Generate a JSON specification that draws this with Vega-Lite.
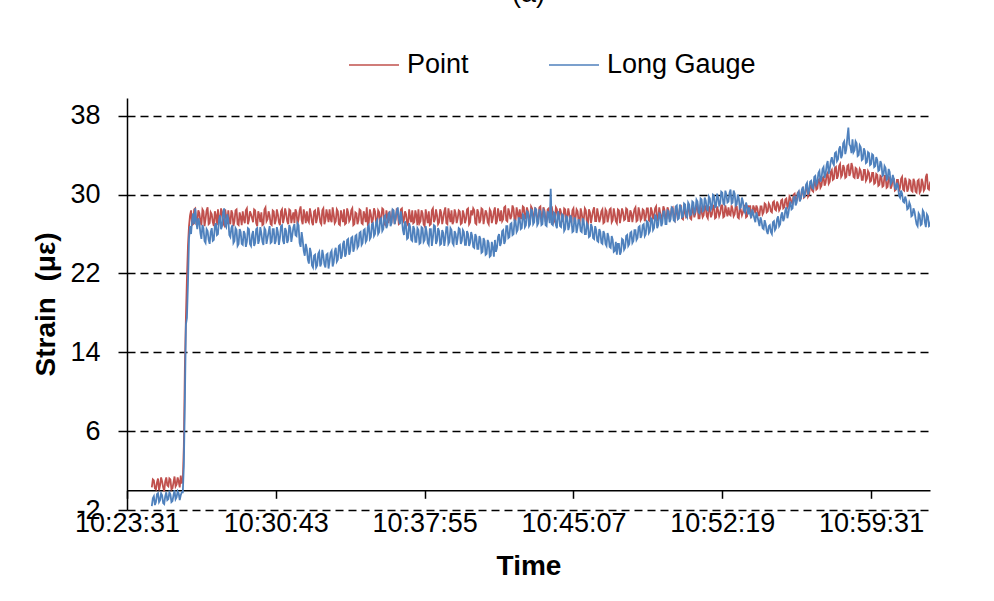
{
"$schema": "https://vega.github.io/schema/vega-lite/v6.json",
"width": 803, "height": 412,
"autosize": {"type": "none"},
"padding": {"left": 127, "top": 98, "right": 64, "bottom": 91},
"background": "white",
"title": {"text": "(a)", "fontSize": 27, "font": "Liberation Sans", "fontWeight": "normal", "anchor": "middle", "frame": "group", "offset": 31, "color": "black"},
"config": {"view": {"stroke": null}, "font": "Liberation Sans"},
"data": {"values": [
{"s":72,"p":0.3,"g":-1.6},{"s":78,"p":1.0,"g":-0.6},{"s":84,"p":0.1,"g":-1.2},{"s":90,"p":1.2,"g":-0.3},{"s":96,"p":0.5,"g":-1.0},{"s":102,"p":0.9,"g":-0.5},{"s":108,"p":-0.1,"g":-1.4},{"s":114,"p":1.3,"g":-0.2},{"s":120,"p":0.4,"g":-0.9},{"s":126,"p":1.1,"g":-0.4},{"s":132,"p":0.2,"g":-1.1},{"s":138,"p":1.4,"g":0.0},{"s":144,"p":0.6,"g":-0.7},{"s":150,"p":0.9,"g":-0.3},{"s":156,"p":1.5,"g":-0.5},{"s":162,"p":1.0,"g":-0.2},{"s":168,"p":12.5,"g":9.0},{"s":174,"p":21.5,"g":17.5},{"s":180,"p":26.8,"g":25.5},
{"s":186,"p":28.4,"g":26.0},{"s":192,"p":27.0,"g":28.1},{"s":198,"p":28.6,"g":28.6},{"s":204,"p":27.2,"g":26.5},{"s":210,"p":28.1,"g":27.2},{"s":216,"p":26.9,"g":25.5},{"s":222,"p":28.3,"g":26.6},{"s":228,"p":27.5,"g":25.1},{"s":234,"p":28.7,"g":26.3},{"s":240,"p":27.1,"g":25.0},
{"s":246,"p":28.0,"g":26.6},{"s":252,"p":26.8,"g":25.4},{"s":258,"p":27.9,"g":27.1},{"s":264,"p":28.5,"g":26.0},{"s":270,"p":27.3,"g":27.9},{"s":276,"p":28.2,"g":26.8},{"s":282,"p":26.9,"g":28.6},{"s":288,"p":27.8,"g":26.7},{"s":294,"p":28.4,"g":27.5},{"s":300,"p":27.0,"g":25.7},
{"s":306,"p":28.1,"g":26.9},{"s":312,"p":27.3,"g":25.3},{"s":318,"p":28.5,"g":26.4},{"s":324,"p":26.9,"g":25.0},{"s":330,"p":27.7,"g":26.2},{"s":336,"p":28.3,"g":24.9},{"s":342,"p":27.1,"g":26.0},{"s":348,"p":28.6,"g":25.2},{"s":354,"p":27.4,"g":26.5},{"s":360,"p":28.0,"g":24.8},
{"s":366,"p":27.2,"g":26.3},{"s":372,"p":28.4,"g":25.1},{"s":378,"p":26.8,"g":26.6},{"s":384,"p":27.9,"g":25.4},{"s":390,"p":28.2,"g":26.1},{"s":396,"p":27.0,"g":24.9},{"s":402,"p":28.7,"g":26.4},{"s":408,"p":27.5,"g":25.6},{"s":414,"p":27.9,"g":26.8},{"s":420,"p":26.9,"g":25.2},
{"s":426,"p":28.3,"g":26.5},{"s":432,"p":27.4,"g":25.3},{"s":438,"p":28.0,"g":26.2},{"s":444,"p":26.9,"g":25.6},{"s":450,"p":28.5,"g":26.9},{"s":456,"p":27.6,"g":25.0},{"s":462,"p":28.1,"g":26.3},{"s":468,"p":27.0,"g":25.4},{"s":474,"p":28.4,"g":26.6},{"s":480,"p":27.7,"g":25.9},
{"s":486,"p":27.1,"g":27.0},{"s":492,"p":28.2,"g":25.8},{"s":498,"p":27.5,"g":26.9},{"s":504,"p":28.8,"g":24.7},{"s":510,"p":27.0,"g":25.4},{"s":516,"p":27.9,"g":23.8},{"s":522,"p":28.3,"g":24.5},{"s":528,"p":27.2,"g":23.0},{"s":534,"p":28.0,"g":24.1},{"s":540,"p":26.9,"g":22.6},
{"s":546,"p":28.4,"g":23.9},{"s":552,"p":27.6,"g":22.8},{"s":558,"p":28.1,"g":24.2},{"s":564,"p":27.0,"g":23.0},{"s":570,"p":28.6,"g":23.8},{"s":576,"p":27.4,"g":22.6},{"s":582,"p":27.9,"g":24.0},{"s":588,"p":28.5,"g":23.2},{"s":594,"p":27.2,"g":24.3},{"s":600,"p":28.0,"g":23.1},
{"s":606,"p":27.3,"g":24.6},{"s":612,"p":28.3,"g":23.4},{"s":618,"p":26.9,"g":24.9},{"s":624,"p":27.8,"g":23.8},{"s":630,"p":28.5,"g":25.3},{"s":636,"p":27.1,"g":24.0},{"s":642,"p":28.2,"g":25.5},{"s":648,"p":27.5,"g":24.3},{"s":654,"p":28.6,"g":25.7},{"s":660,"p":27.0,"g":24.6},
{"s":666,"p":28.1,"g":25.9},{"s":672,"p":27.4,"g":24.8},{"s":678,"p":28.4,"g":26.2},{"s":684,"p":27.0,"g":25.1},{"s":690,"p":27.9,"g":26.5},{"s":696,"p":28.7,"g":25.4},{"s":702,"p":27.2,"g":26.9},{"s":708,"p":28.0,"g":25.7},{"s":714,"p":27.5,"g":27.1},{"s":720,"p":28.3,"g":26.0},
{"s":726,"p":27.0,"g":27.4},{"s":732,"p":28.2,"g":26.2},{"s":738,"p":27.6,"g":27.6},{"s":744,"p":28.5,"g":26.5},{"s":750,"p":26.9,"g":27.9},{"s":756,"p":27.8,"g":26.9},{"s":762,"p":28.3,"g":28.2},{"s":768,"p":27.3,"g":27.1},{"s":774,"p":28.0,"g":28.4},{"s":780,"p":27.5,"g":27.6},
{"s":786,"p":28.2,"g":28.7},{"s":792,"p":27.1,"g":27.0},{"s":798,"p":28.6,"g":27.5},{"s":804,"p":27.4,"g":25.9},{"s":810,"p":28.0,"g":26.9},{"s":816,"p":26.9,"g":25.6},{"s":822,"p":27.7,"g":26.7},{"s":828,"p":28.4,"g":25.3},{"s":834,"p":27.2,"g":26.5},{"s":840,"p":27.9,"g":25.2},
{"s":846,"p":28.5,"g":26.4},{"s":852,"p":27.3,"g":25.1},{"s":858,"p":28.1,"g":26.6},{"s":864,"p":26.8,"g":25.4},{"s":870,"p":27.8,"g":26.2},{"s":876,"p":28.3,"g":24.9},{"s":882,"p":27.0,"g":26.5},{"s":888,"p":28.6,"g":25.6},{"s":894,"p":27.5,"g":26.8},{"s":900,"p":27.9,"g":25.3},
{"s":906,"p":27.2,"g":26.3},{"s":912,"p":28.2,"g":25.0},{"s":918,"p":27.6,"g":26.1},{"s":924,"p":28.7,"g":25.5},{"s":930,"p":27.0,"g":26.7},{"s":936,"p":27.9,"g":25.2},{"s":942,"p":28.4,"g":26.4},{"s":948,"p":27.3,"g":24.9},{"s":954,"p":28.1,"g":26.0},{"s":960,"p":27.6,"g":25.6},
{"s":966,"p":28.3,"g":26.5},{"s":972,"p":27.1,"g":25.3},{"s":978,"p":28.0,"g":26.2},{"s":984,"p":27.5,"g":24.9},{"s":990,"p":28.6,"g":26.0},{"s":996,"p":27.2,"g":25.1},{"s":1002,"p":27.9,"g":25.8},{"s":1008,"p":28.4,"g":24.6},{"s":1014,"p":27.0,"g":25.7},{"s":1020,"p":28.2,"g":24.5},
{"s":1026,"p":27.4,"g":25.5},{"s":1032,"p":28.5,"g":24.2},{"s":1038,"p":27.7,"g":25.3},{"s":1044,"p":28.1,"g":24.0},{"s":1050,"p":27.0,"g":25.1},{"s":1056,"p":28.3,"g":23.8},{"s":1062,"p":27.6,"g":24.6},{"s":1068,"p":28.7,"g":25.4},{"s":1074,"p":27.3,"g":24.6},{"s":1080,"p":28.0,"g":26.0},
{"s":1086,"p":28.4,"g":25.1},{"s":1092,"p":27.5,"g":26.4},{"s":1098,"p":28.8,"g":25.3},{"s":1104,"p":27.3,"g":26.8},{"s":1110,"p":28.2,"g":25.7},{"s":1116,"p":27.8,"g":27.1},{"s":1122,"p":28.6,"g":26.0},{"s":1128,"p":27.4,"g":27.3},{"s":1134,"p":28.1,"g":26.4},{"s":1140,"p":28.5,"g":27.6},
{"s":1146,"p":27.6,"g":26.6},{"s":1152,"p":28.7,"g":27.9},{"s":1158,"p":27.9,"g":26.9},{"s":1164,"p":28.3,"g":28.2},{"s":1170,"p":27.4,"g":27.0},{"s":1176,"p":28.6,"g":28.4},{"s":1182,"p":27.8,"g":27.2},{"s":1188,"p":28.2,"g":28.5},{"s":1194,"p":27.5,"g":27.1},{"s":1200,"p":28.8,"g":28.3},
{"s":1206,"p":27.7,"g":27.0},{"s":1212,"p":28.4,"g":28.2},{"s":1218,"p":27.3,"g":26.8},{"s":1224,"p":28.6,"g":28.0},{"s":1230,"p":27.9,"g":30.6},{"s":1236,"p":28.1,"g":26.9},{"s":1242,"p":27.4,"g":28.1},{"s":1248,"p":28.5,"g":26.6},{"s":1254,"p":27.8,"g":27.9},{"s":1260,"p":28.2,"g":26.7},
{"s":1266,"p":27.4,"g":27.9},{"s":1272,"p":28.5,"g":26.5},{"s":1278,"p":27.7,"g":27.7},{"s":1284,"p":28.0,"g":26.8},{"s":1290,"p":27.2,"g":27.6},{"s":1296,"p":28.6,"g":26.3},{"s":1302,"p":27.6,"g":27.4},{"s":1308,"p":28.3,"g":26.7},{"s":1314,"p":27.1,"g":27.2},{"s":1320,"p":28.1,"g":26.2},
{"s":1326,"p":27.5,"g":27.3},{"s":1332,"p":28.4,"g":26.0},{"s":1338,"p":27.0,"g":26.9},{"s":1344,"p":28.2,"g":25.8},{"s":1350,"p":27.8,"g":26.7},{"s":1356,"p":28.7,"g":25.5},{"s":1362,"p":27.3,"g":26.4},{"s":1368,"p":28.0,"g":25.2},{"s":1374,"p":27.6,"g":26.2},{"s":1380,"p":28.5,"g":25.0},
{"s":1386,"p":27.2,"g":26.0},{"s":1392,"p":28.3,"g":24.8},{"s":1398,"p":27.7,"g":25.7},{"s":1404,"p":28.6,"g":24.6},{"s":1410,"p":27.4,"g":25.4},{"s":1416,"p":28.0,"g":24.3},{"s":1422,"p":27.1,"g":23.9},{"s":1428,"p":28.4,"g":25.0},{"s":1434,"p":27.8,"g":24.2},{"s":1440,"p":28.2,"g":25.4},
{"s":1446,"p":27.5,"g":24.6},{"s":1452,"p":28.5,"g":25.9},{"s":1458,"p":27.3,"g":25.0},{"s":1464,"p":28.1,"g":26.2},{"s":1470,"p":27.9,"g":25.3},{"s":1476,"p":28.7,"g":26.4},{"s":1482,"p":27.4,"g":25.6},{"s":1488,"p":28.2,"g":26.8},{"s":1494,"p":27.6,"g":25.9},{"s":1500,"p":28.4,"g":27.0},
{"s":1506,"p":27.7,"g":26.0},{"s":1512,"p":28.6,"g":27.2},{"s":1518,"p":27.3,"g":26.3},{"s":1524,"p":28.3,"g":27.5},{"s":1530,"p":27.9,"g":26.6},{"s":1536,"p":28.8,"g":27.8},{"s":1542,"p":27.5,"g":26.9},{"s":1548,"p":28.1,"g":28.0},{"s":1554,"p":27.8,"g":27.1},{"s":1560,"p":28.5,"g":28.3},
{"s":1566,"p":27.6,"g":27.0},{"s":1572,"p":28.4,"g":28.3},{"s":1578,"p":27.9,"g":27.5},{"s":1584,"p":28.7,"g":28.6},{"s":1590,"p":27.4,"g":27.3},{"s":1596,"p":28.2,"g":28.9},{"s":1602,"p":28.0,"g":27.6},{"s":1608,"p":28.8,"g":28.7},{"s":1614,"p":27.5,"g":27.8},{"s":1620,"p":28.3,"g":29.0},
{"s":1626,"p":27.8,"g":27.7},{"s":1632,"p":28.6,"g":29.0},{"s":1638,"p":27.5,"g":28.0},{"s":1644,"p":28.4,"g":29.2},{"s":1650,"p":28.1,"g":28.3},{"s":1656,"p":28.9,"g":29.3},{"s":1662,"p":27.6,"g":28.1},{"s":1668,"p":28.3,"g":29.5},{"s":1674,"p":27.9,"g":28.4},{"s":1680,"p":28.7,"g":29.4},
{"s":1686,"p":27.6,"g":28.4},{"s":1692,"p":28.5,"g":29.6},{"s":1698,"p":28.0,"g":28.7},{"s":1704,"p":28.8,"g":29.9},{"s":1710,"p":27.7,"g":28.8},{"s":1716,"p":28.4,"g":29.7},{"s":1722,"p":28.1,"g":29.1},{"s":1728,"p":28.9,"g":30.2},{"s":1734,"p":27.8,"g":29.0},{"s":1740,"p":28.3,"g":30.0},
{"s":1746,"p":28.7,"g":29.3},{"s":1752,"p":27.9,"g":30.5},{"s":1758,"p":28.5,"g":29.2},{"s":1764,"p":28.0,"g":30.1},{"s":1770,"p":28.8,"g":29.0},{"s":1776,"p":27.6,"g":29.6},{"s":1782,"p":28.4,"g":28.7},{"s":1788,"p":28.2,"g":29.3},{"s":1794,"p":28.9,"g":28.2},{"s":1800,"p":27.8,"g":28.8},
{"s":1806,"p":28.5,"g":28.7},{"s":1812,"p":27.8,"g":27.6},{"s":1818,"p":28.9,"g":28.1},{"s":1824,"p":28.1,"g":27.2},{"s":1830,"p":28.6,"g":27.8},{"s":1836,"p":27.9,"g":26.8},{"s":1842,"p":28.8,"g":27.3},{"s":1848,"p":28.2,"g":26.5},{"s":1854,"p":29.0,"g":27.0},{"s":1860,"p":28.3,"g":26.0},
{"s":1866,"p":28.9,"g":26.9},{"s":1872,"p":28.2,"g":26.0},{"s":1878,"p":29.3,"g":27.3},{"s":1884,"p":28.4,"g":26.6},{"s":1890,"p":29.0,"g":27.8},{"s":1896,"p":28.6,"g":27.0},{"s":1902,"p":29.5,"g":28.2},{"s":1908,"p":28.7,"g":27.6},{"s":1914,"p":29.6,"g":28.7},{"s":1920,"p":28.9,"g":28.1},
{"s":1926,"p":29.6,"g":29.3},{"s":1932,"p":29.1,"g":28.6},{"s":1938,"p":30.1,"g":29.8},{"s":1944,"p":29.4,"g":29.2},{"s":1950,"p":30.3,"g":30.3},{"s":1956,"p":29.6,"g":29.6},{"s":1962,"p":30.6,"g":30.8},{"s":1968,"p":29.8,"g":30.0},{"s":1974,"p":30.9,"g":31.2},{"s":1980,"p":30.0,"g":30.4},
{"s":1986,"p":30.9,"g":31.4},{"s":1992,"p":30.3,"g":30.6},{"s":1998,"p":31.4,"g":31.9},{"s":2004,"p":30.6,"g":31.2},{"s":2010,"p":31.6,"g":32.4},{"s":2016,"p":30.9,"g":31.6},{"s":2022,"p":31.8,"g":32.8},{"s":2028,"p":31.2,"g":32.1},{"s":2034,"p":32.2,"g":33.4},{"s":2040,"p":31.3,"g":32.6},
{"s":2046,"p":32.5,"g":33.8},{"s":2052,"p":31.6,"g":33.0},{"s":2058,"p":32.8,"g":34.3},{"s":2064,"p":31.9,"g":33.6},{"s":2070,"p":33.1,"g":34.9},{"s":2076,"p":32.0,"g":34.0},{"s":2082,"p":32.7,"g":35.4},{"s":2088,"p":31.8,"g":34.6},{"s":2094,"p":33.0,"g":36.8},{"s":2100,"p":32.2,"g":34.9},
{"s":2106,"p":32.8,"g":35.6},{"s":2112,"p":31.7,"g":34.5},{"s":2118,"p":32.6,"g":35.2},{"s":2124,"p":31.9,"g":34.0},{"s":2130,"p":32.4,"g":34.8},{"s":2136,"p":31.5,"g":33.6},{"s":2142,"p":32.5,"g":34.4},{"s":2148,"p":31.6,"g":33.3},{"s":2154,"p":32.2,"g":34.2},{"s":2160,"p":31.4,"g":33.1},
{"s":2166,"p":32.2,"g":34.0},{"s":2172,"p":31.2,"g":32.9},{"s":2178,"p":32.0,"g":33.5},{"s":2184,"p":31.0,"g":32.5},{"s":2190,"p":31.8,"g":33.1},{"s":2196,"p":30.9,"g":32.0},{"s":2202,"p":31.9,"g":32.7},{"s":2208,"p":30.8,"g":31.6},{"s":2214,"p":31.7,"g":32.3},{"s":2220,"p":30.9,"g":31.3},
{"s":2226,"p":31.6,"g":31.6},{"s":2232,"p":30.5,"g":30.5},{"s":2238,"p":31.5,"g":30.9},{"s":2244,"p":30.7,"g":29.7},{"s":2250,"p":31.8,"g":30.1},{"s":2256,"p":30.4,"g":29.2},{"s":2262,"p":31.3,"g":29.4},{"s":2268,"p":30.6,"g":28.6},{"s":2274,"p":31.4,"g":28.9},{"s":2280,"p":30.3,"g":27.9},
{"s":2286,"p":31.3,"g":28.3},{"s":2292,"p":30.2,"g":27.0},{"s":2298,"p":31.5,"g":28.1},{"s":2304,"p":30.4,"g":26.9},{"s":2310,"p":31.2,"g":28.4},{"s":2316,"p":30.6,"g":27.2},{"s":2322,"p":32.1,"g":28.0},{"s":2328,"p":30.5,"g":26.8},{"s":2334,"p":31.4,"g":27.5},
{"s":75,"p":1.1,"g":-0.8},{"s":81,"p":0.2,"g":-1.5},{"s":87,"p":0.8,"g":-0.4},{"s":93,"p":0.0,"g":-1.2},{"s":99,"p":1.3,"g":-0.3},{"s":105,"p":0.3,"g":-1.3},{"s":111,"p":0.9,"g":-0.6},{"s":117,"p":0.5,"g":-1.0},{"s":123,"p":1.2,"g":-0.2},{"s":129,"p":0.1,"g":-1.2},{"s":135,"p":0.8,"g":-0.5},{"s":141,"p":0.4,"g":-0.9},{"s":147,"p":1.3,"g":-0.1},{"s":153,"p":0.3,"g":-1.0},{"s":159,"p":0.7,"g":-0.2},{"s":165,"p":4.5,"g":2.5},{"s":171,"p":17.5,"g":16.8},{"s":177,"p":24.8,"g":21.0},{"s":183,"p":27.9,"g":26.8},
{"s":189,"p":26.9,"g":27.4},{"s":195,"p":28.5,"g":27.0},{"s":201,"p":27.1,"g":27.3},{"s":207,"p":28.4,"g":27.6},{"s":213,"p":27.3,"g":26.1},{"s":219,"p":28.5,"g":26.9},{"s":225,"p":26.8,"g":25.3},{"s":231,"p":28.4,"g":26.5},{"s":237,"p":27.0,"g":25.4},{"s":243,"p":28.2,"g":26.2},
{"s":249,"p":27.2,"g":25.3},{"s":255,"p":28.3,"g":26.8},{"s":261,"p":26.9,"g":25.9},{"s":267,"p":27.4,"g":27.4},{"s":273,"p":28.6,"g":26.5},{"s":279,"p":27.1,"g":28.2},{"s":285,"p":28.5,"g":26.9},{"s":291,"p":27.0,"g":28.0},{"s":297,"p":27.3,"g":25.9},{"s":303,"p":28.4,"g":26.6},
{"s":309,"p":26.8,"g":25.1},{"s":315,"p":28.4,"g":26.6},{"s":321,"p":27.0,"g":24.8},{"s":327,"p":28.2,"g":26.5},{"s":333,"p":26.9,"g":25.0},{"s":339,"p":27.5,"g":26.3},{"s":345,"p":28.4,"g":24.7},{"s":351,"p":27.0,"g":26.6},{"s":357,"p":28.3,"g":25.0},{"s":363,"p":27.6,"g":25.9},
{"s":369,"p":28.5,"g":24.8},{"s":375,"p":27.1,"g":26.5},{"s":381,"p":28.3,"g":25.0},{"s":387,"p":27.2,"g":26.7},{"s":393,"p":26.9,"g":25.2},{"s":399,"p":28.5,"g":26.6},{"s":405,"p":27.3,"g":25.0},{"s":411,"p":28.3,"g":26.2},{"s":417,"p":27.0,"g":25.1},{"s":423,"p":28.4,"g":26.5},
{"s":429,"p":27.0,"g":25.0},{"s":435,"p":28.5,"g":26.7},{"s":441,"p":27.2,"g":24.9},{"s":447,"p":28.3,"g":26.8},{"s":453,"p":27.1,"g":25.3},{"s":459,"p":28.6,"g":26.6},{"s":465,"p":27.3,"g":25.1},{"s":471,"p":28.5,"g":26.9},{"s":477,"p":27.1,"g":25.2},{"s":483,"p":28.2,"g":26.7},
{"s":489,"p":28.5,"g":25.9},{"s":495,"p":27.0,"g":27.1},{"s":501,"p":28.4,"g":25.1},{"s":507,"p":27.4,"g":26.2},{"s":513,"p":28.5,"g":24.3},{"s":519,"p":27.1,"g":25.0},{"s":525,"p":27.4,"g":23.4},{"s":531,"p":28.6,"g":24.6},{"s":537,"p":27.2,"g":22.8},{"s":543,"p":28.3,"g":23.8},
{"s":549,"p":27.1,"g":22.6},{"s":555,"p":28.7,"g":24.0},{"s":561,"p":27.2,"g":22.7},{"s":567,"p":28.4,"g":24.4},{"s":573,"p":27.0,"g":22.9},{"s":579,"p":28.5,"g":23.9},{"s":585,"p":27.2,"g":22.5},{"s":591,"p":27.5,"g":24.1},{"s":597,"p":28.7,"g":22.7},{"s":603,"p":27.1,"g":24.2},
{"s":609,"p":28.5,"g":23.2},{"s":615,"p":27.0,"g":24.8},{"s":621,"p":28.4,"g":23.5},{"s":627,"p":27.2,"g":25.0},{"s":633,"p":27.0,"g":23.7},{"s":639,"p":28.6,"g":25.4},{"s":645,"p":27.3,"g":23.9},{"s":651,"p":28.4,"g":25.6},{"s":657,"p":26.9,"g":24.2},{"s":663,"p":28.2,"g":25.8},
{"s":669,"p":27.0,"g":24.6},{"s":675,"p":28.5,"g":26.1},{"s":681,"p":27.1,"g":24.9},{"s":687,"p":28.3,"g":26.4},{"s":693,"p":27.2,"g":25.2},{"s":699,"p":27.0,"g":26.7},{"s":705,"p":28.5,"g":25.5},{"s":711,"p":27.1,"g":27.0},{"s":717,"p":28.6,"g":25.8},{"s":723,"p":27.2,"g":27.2},
{"s":729,"p":28.4,"g":26.0},{"s":735,"p":27.1,"g":27.5},{"s":741,"p":28.6,"g":26.3},{"s":747,"p":27.0,"g":27.8},{"s":753,"p":28.4,"g":26.6},{"s":759,"p":27.1,"g":28.1},{"s":765,"p":27.4,"g":26.8},{"s":771,"p":28.5,"g":28.5},{"s":777,"p":27.0,"g":27.0},{"s":783,"p":28.6,"g":28.3},
{"s":789,"p":27.0,"g":27.6},{"s":795,"p":28.5,"g":28.3},{"s":801,"p":27.2,"g":26.4},{"s":807,"p":28.3,"g":27.3},{"s":813,"p":27.1,"g":25.5},{"s":819,"p":28.5,"g":27.1},{"s":825,"p":27.2,"g":25.4},{"s":831,"p":27.1,"g":26.8},{"s":837,"p":28.4,"g":25.2},{"s":843,"p":26.9,"g":26.6},
{"s":849,"p":27.1,"g":25.0},{"s":855,"p":28.4,"g":26.7},{"s":861,"p":27.0,"g":25.2},{"s":867,"p":28.5,"g":26.8},{"s":873,"p":27.1,"g":25.1},{"s":879,"p":26.9,"g":26.5},{"s":885,"p":28.4,"g":24.8},{"s":891,"p":27.2,"g":26.9},{"s":897,"p":28.5,"g":25.0},{"s":903,"p":27.0,"g":26.6},
{"s":909,"p":28.5,"g":24.9},{"s":915,"p":27.0,"g":26.4},{"s":921,"p":28.3,"g":24.8},{"s":927,"p":27.1,"g":26.7},{"s":933,"p":28.6,"g":25.0},{"s":939,"p":27.2,"g":26.6},{"s":945,"p":27.0,"g":25.1},{"s":951,"p":28.5,"g":26.3},{"s":957,"p":27.1,"g":24.9},{"s":963,"p":28.4,"g":26.6},
{"s":969,"p":27.0,"g":25.0},{"s":975,"p":28.4,"g":26.4},{"s":981,"p":27.1,"g":24.9},{"s":987,"p":28.5,"g":26.3},{"s":993,"p":27.0,"g":24.8},{"s":999,"p":28.4,"g":26.2},{"s":1005,"p":28.6,"g":24.7},{"s":1011,"p":27.1,"g":26.0},{"s":1017,"p":28.5,"g":24.5},{"s":1023,"p":27.1,"g":25.8},
{"s":1029,"p":28.6,"g":24.1},{"s":1035,"p":27.0,"g":25.6},{"s":1041,"p":28.4,"g":23.9},{"s":1047,"p":27.2,"g":25.4},{"s":1053,"p":28.5,"g":23.7},{"s":1059,"p":27.1,"g":25.2},{"s":1065,"p":28.3,"g":23.7},{"s":1071,"p":27.0,"g":24.2},{"s":1077,"p":28.6,"g":25.7},{"s":1083,"p":27.3,"g":24.8},
{"s":1089,"p":27.3,"g":26.3},{"s":1095,"p":28.7,"g":25.0},{"s":1101,"p":27.4,"g":26.8},{"s":1107,"p":28.6,"g":25.6},{"s":1113,"p":27.5,"g":27.0},{"s":1119,"p":28.9,"g":25.9},{"s":1125,"p":27.4,"g":27.4},{"s":1131,"p":28.7,"g":26.2},{"s":1137,"p":27.5,"g":27.6},{"s":1143,"p":27.6,"g":26.5},
{"s":1149,"p":28.8,"g":28.0},{"s":1155,"p":27.5,"g":26.7},{"s":1161,"p":28.7,"g":28.3},{"s":1167,"p":27.4,"g":26.8},{"s":1173,"p":28.8,"g":28.5},{"s":1179,"p":27.5,"g":27.0},{"s":1185,"p":28.7,"g":28.6},{"s":1191,"p":27.4,"g":26.9},{"s":1197,"p":28.7,"g":28.4},{"s":1203,"p":27.5,"g":26.9},
{"s":1209,"p":28.7,"g":28.4},{"s":1215,"p":27.3,"g":26.9},{"s":1221,"p":28.5,"g":28.3},{"s":1227,"p":27.4,"g":27.1},{"s":1233,"p":28.8,"g":27.0},{"s":1239,"p":27.2,"g":28.2},{"s":1245,"p":28.7,"g":26.9},{"s":1251,"p":27.5,"g":28.3},{"s":1257,"p":28.6,"g":26.8},{"s":1263,"p":27.3,"g":28.0},
{"s":1269,"p":28.6,"g":26.3},{"s":1275,"p":27.3,"g":27.8},{"s":1281,"p":28.6,"g":26.4},{"s":1287,"p":27.4,"g":27.9},{"s":1293,"p":28.4,"g":26.2},{"s":1299,"p":27.2,"g":27.7},{"s":1305,"p":28.5,"g":26.1},{"s":1311,"p":27.3,"g":27.5},{"s":1317,"p":28.6,"g":26.3},{"s":1323,"p":27.2,"g":27.6},
{"s":1329,"p":28.6,"g":26.0},{"s":1335,"p":27.2,"g":27.1},{"s":1341,"p":28.5,"g":25.7},{"s":1347,"p":27.1,"g":27.0},{"s":1353,"p":28.4,"g":25.6},{"s":1359,"p":27.3,"g":26.8},{"s":1365,"p":28.6,"g":25.3},{"s":1371,"p":27.2,"g":26.5},{"s":1377,"p":28.3,"g":25.1},{"s":1383,"p":27.1,"g":26.3},
{"s":1389,"p":28.5,"g":25.0},{"s":1395,"p":27.2,"g":26.1},{"s":1401,"p":28.5,"g":24.7},{"s":1407,"p":27.2,"g":25.8},{"s":1413,"p":28.6,"g":24.2},{"s":1419,"p":27.3,"g":25.2},{"s":1425,"p":28.5,"g":25.0},{"s":1431,"p":27.1,"g":23.9},{"s":1437,"p":28.6,"g":25.5},{"s":1443,"p":27.4,"g":24.4},
{"s":1449,"p":28.6,"g":25.8},{"s":1455,"p":27.3,"g":24.8},{"s":1461,"p":28.4,"g":26.1},{"s":1467,"p":27.2,"g":25.1},{"s":1473,"p":28.5,"g":26.4},{"s":1479,"p":27.3,"g":25.4},{"s":1485,"p":28.7,"g":26.7},{"s":1491,"p":27.4,"g":25.6},{"s":1497,"p":28.5,"g":26.9},{"s":1503,"p":27.3,"g":25.8},
{"s":1509,"p":28.6,"g":27.3},{"s":1515,"p":27.4,"g":26.1},{"s":1521,"p":28.7,"g":27.6},{"s":1527,"p":27.5,"g":26.4},{"s":1533,"p":28.6,"g":27.9},{"s":1539,"p":27.4,"g":26.6},{"s":1545,"p":28.7,"g":28.1},{"s":1551,"p":27.5,"g":26.8},{"s":1557,"p":28.8,"g":28.3},{"s":1563,"p":27.6,"g":27.0},
{"s":1569,"p":28.7,"g":28.4},{"s":1575,"p":27.5,"g":27.2},{"s":1581,"p":28.6,"g":28.7},{"s":1587,"p":27.6,"g":27.4},{"s":1593,"p":28.8,"g":28.8},{"s":1599,"p":27.5,"g":27.5},{"s":1605,"p":28.7,"g":29.0},{"s":1611,"p":27.6,"g":27.7},{"s":1617,"p":28.6,"g":29.1},{"s":1623,"p":27.7,"g":27.9},
{"s":1629,"p":28.8,"g":29.2},{"s":1635,"p":27.6,"g":27.9},{"s":1641,"p":28.7,"g":29.3},{"s":1647,"p":27.7,"g":28.1},{"s":1653,"p":28.8,"g":29.5},{"s":1659,"p":27.6,"g":28.2},{"s":1665,"p":28.9,"g":29.6},{"s":1671,"p":27.7,"g":28.3},{"s":1677,"p":28.9,"g":29.7},{"s":1683,"p":27.8,"g":28.5},
{"s":1689,"p":28.8,"g":29.8},{"s":1695,"p":27.7,"g":28.5},{"s":1701,"p":28.9,"g":30.0},{"s":1707,"p":27.6,"g":28.7},{"s":1713,"p":28.8,"g":30.1},{"s":1719,"p":27.8,"g":28.9},{"s":1725,"p":28.9,"g":30.3},{"s":1731,"p":27.7,"g":29.1},{"s":1737,"p":28.9,"g":30.4},{"s":1743,"p":27.8,"g":29.2},
{"s":1749,"p":28.0,"g":30.2},{"s":1755,"p":28.9,"g":29.1},{"s":1761,"p":27.8,"g":30.4},{"s":1767,"p":28.9,"g":28.9},{"s":1773,"p":27.7,"g":30.0},{"s":1779,"p":28.8,"g":28.6},{"s":1785,"p":27.9,"g":29.7},{"s":1791,"p":28.8,"g":28.4},{"s":1797,"p":27.7,"g":29.2},{"s":1803,"p":28.9,"g":28.0},
{"s":1809,"p":28.9,"g":28.0},{"s":1815,"p":28.0,"g":28.5},{"s":1821,"p":28.6,"g":27.6},{"s":1827,"p":28.9,"g":28.2},{"s":1833,"p":27.9,"g":27.3},{"s":1839,"p":28.8,"g":27.7},{"s":1845,"p":28.0,"g":26.6},{"s":1851,"p":29.1,"g":27.4},{"s":1857,"p":28.2,"g":26.3},{"s":1863,"p":29.1,"g":26.8},
{"s":1869,"p":28.3,"g":26.2},{"s":1875,"p":29.2,"g":27.2},{"s":1881,"p":28.5,"g":26.4},{"s":1887,"p":29.3,"g":27.5},{"s":1893,"p":28.4,"g":26.8},{"s":1899,"p":29.4,"g":27.9},{"s":1905,"p":28.6,"g":27.3},{"s":1911,"p":29.5,"g":28.4},{"s":1917,"p":28.7,"g":27.6},{"s":1923,"p":29.8,"g":28.9},
{"s":1929,"p":29.2,"g":28.5},{"s":1935,"p":30.0,"g":29.7},{"s":1941,"p":29.3,"g":28.9},{"s":1947,"p":30.2,"g":30.1},{"s":1953,"p":29.5,"g":29.3},{"s":1959,"p":30.4,"g":30.5},{"s":1965,"p":29.7,"g":29.7},{"s":1971,"p":30.7,"g":31.0},{"s":1977,"p":29.8,"g":30.0},{"s":1983,"p":30.9,"g":31.3},
{"s":1989,"p":30.4,"g":30.7},{"s":1995,"p":31.2,"g":31.8},{"s":2001,"p":30.5,"g":31.0},{"s":2007,"p":31.5,"g":32.2},{"s":2013,"p":30.7,"g":31.3},{"s":2019,"p":31.7,"g":32.6},{"s":2025,"p":30.9,"g":31.7},{"s":2031,"p":32.0,"g":33.0},{"s":2037,"p":31.1,"g":32.1},{"s":2043,"p":32.3,"g":33.4},
{"s":2049,"p":31.5,"g":33.2},{"s":2055,"p":32.7,"g":34.2},{"s":2061,"p":31.6,"g":33.4},{"s":2067,"p":32.9,"g":34.6},{"s":2073,"p":31.8,"g":33.7},{"s":2079,"p":33.0,"g":35.2},{"s":2085,"p":31.7,"g":34.1},{"s":2091,"p":32.9,"g":35.8},{"s":2097,"p":31.9,"g":35.1},{"s":2103,"p":33.2,"g":34.2},
{"s":2109,"p":31.8,"g":34.3},{"s":2115,"p":32.7,"g":35.4},{"s":2121,"p":31.6,"g":33.9},{"s":2127,"p":32.6,"g":35.0},{"s":2133,"p":31.5,"g":33.5},{"s":2139,"p":32.5,"g":34.7},{"s":2145,"p":31.4,"g":33.2},{"s":2151,"p":32.4,"g":34.3},{"s":2157,"p":31.3,"g":33.0},{"s":2163,"p":32.2,"g":34.1},
{"s":2169,"p":31.1,"g":32.8},{"s":2175,"p":32.1,"g":33.8},{"s":2181,"p":30.9,"g":32.4},{"s":2187,"p":31.9,"g":33.4},{"s":2193,"p":30.8,"g":31.9},{"s":2199,"p":31.9,"g":32.9},{"s":2205,"p":30.7,"g":31.5},{"s":2211,"p":31.8,"g":32.6},{"s":2217,"p":30.6,"g":31.1},{"s":2223,"p":31.7,"g":32.0},
{"s":2229,"p":30.4,"g":30.8},{"s":2235,"p":31.5,"g":31.2},{"s":2241,"p":30.3,"g":29.9},{"s":2247,"p":31.6,"g":30.4},{"s":2253,"p":30.5,"g":29.3},{"s":2259,"p":31.7,"g":29.8},{"s":2265,"p":30.3,"g":28.5},{"s":2271,"p":31.5,"g":29.2},{"s":2277,"p":30.4,"g":27.8},{"s":2283,"p":31.6,"g":28.6},
{"s":2289,"p":30.3,"g":27.6},{"s":2295,"p":31.4,"g":26.8},{"s":2301,"p":30.2,"g":27.9},{"s":2307,"p":31.6,"g":27.0},{"s":2313,"p":30.4,"g":28.2},{"s":2319,"p":31.8,"g":26.7},{"s":2325,"p":30.6,"g":27.8},{"s":2331,"p":31.2,"g":26.9}
]},
"transform": [{"fold": ["p", "g"], "as": ["series", "strain"]}],
"mark": {"type": "line", "strokeWidth": 1.8, "clip": true},
"encoding": {
  "x": {"field": "s", "type": "quantitative", "scale": {"domain": [0, 2331], "nice": false, "zero": false},
    "axis": {"values": [0, 432, 864, 1296, 1728, 2160], "labelExpr": "utcFormat((37411 + datum.value) * 1000, '%H:%M:%S')",
      "offset": -19.7, "tickSize": 8, "tickColor": "black", "tickWidth": 1.5, "domainColor": "black", "domainWidth": 1.5,
      "labelPadding": 12, "labelFlush": false, "labelOverlap": false, "labelFontSize": 27, "labelFont": "Liberation Sans", "labelColor": "black",
      "grid": false, "title": "Time", "titleFontSize": 28, "titleFont": "Liberation Sans", "titleFontWeight": "bold", "titleColor": "black", "titlePadding": 16}},
  "y": {"field": "strain", "type": "quantitative", "scale": {"domain": [-2, 39.8], "nice": false, "zero": false},
    "axis": {"values": [-2, 6, 14, 22, 30, 38], "labelExpr": "datum.value < 0 ? '-' + abs(datum.value) : '' + datum.value",
      "tickSize": 9, "tickColor": "black", "tickWidth": 1.5, "domainColor": "black", "domainWidth": 1.5,
      "labelPadding": 18, "labelFontSize": 27, "labelFont": "Liberation Sans", "labelColor": "black",
      "grid": true, "gridColor": "black", "gridDash": [8, 5], "gridWidth": 1.5, "gridOpacity": 1,
      "title": "Strain \u00a0(με)", "titleFontSize": 28, "titleFont": "Liberation Sans", "titleFontWeight": "bold", "titleColor": "black", "titlePadding": 9}},
  "color": {"field": "series", "type": "nominal", "scale": {"domain": ["p", "g"], "range": ["#C0504D", "#4F81BD"]},
    "legend": {"orient": "none", "legendX": 221, "legendY": -59, "direction": "horizontal", "title": null,
      "symbolType": "stroke", "symbolSize": 2500, "symbolStrokeWidth": 1.5, "labelFontSize": 27, "labelFont": "Liberation Sans",
      "labelColor": "black", "labelOffset": 7, "columnPadding": 77, "padding": 0, "labelLimit": 400,
      "labelExpr": "datum.label == 'p' ? 'Point' : 'Long Gauge'"}}
}
}
